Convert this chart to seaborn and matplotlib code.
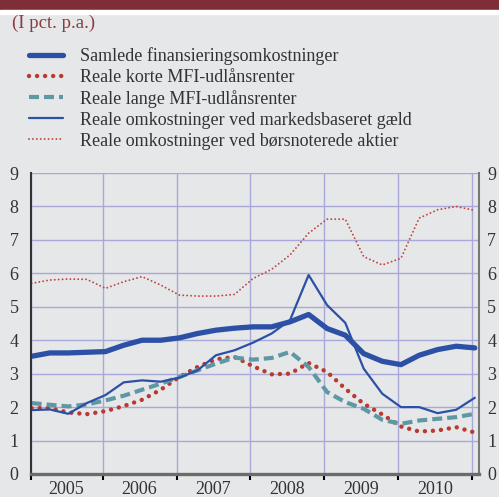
import pandas as pd
import matplotlib
matplotlib.use("Agg")
import matplotlib.pyplot as plt
import seaborn as sns
from matplotlib.lines import Line2D
from matplotlib.patches import Rectangle

# Quarterly observations, 2005 - 2010 (pct. p.a.)
quarters = pd.date_range("2005-01-15", periods=25, freq=pd.DateOffset(months=3))
samlede = [3.52, 3.62, 3.62, 3.64, 3.66, 3.85, 4.0, 4.0, 4.07, 4.2, 4.3, 4.36, 4.4,
           4.4, 4.55, 4.77, 4.35, 4.15, 3.6, 3.37, 3.27, 3.55, 3.72, 3.82, 3.77]
korte = [1.97, 1.97, 1.84, 1.79, 1.88, 2.03, 2.22, 2.52, 2.9, 3.2, 3.43, 3.5, 3.22,
         2.98, 3.0, 3.32, 3.05, 2.55, 2.1, 1.78, 1.42, 1.27, 1.3, 1.4, 1.24]
lange = [2.12, 2.07, 2.02, 2.08, 2.2, 2.34, 2.52, 2.7, 2.9, 3.1, 3.3, 3.48, 3.42,
         3.47, 3.65, 3.2, 2.45, 2.15, 1.95, 1.62, 1.5, 1.6, 1.65, 1.7, 1.8]
markeds = [1.91, 1.93, 1.8, 2.12, 2.36, 2.74, 2.8, 2.76, 2.88, 3.1, 3.55, 3.7, 3.93,
           4.2, 4.6, 5.95, 5.05, 4.52, 3.15, 2.4, 2.0, 2.0, 1.82, 1.92, 2.28]
aktier = [5.7, 5.8, 5.83, 5.82, 5.55, 5.75, 5.9, 5.65, 5.35, 5.32, 5.32, 5.37, 5.85,
          6.12, 6.55, 7.2, 7.62, 7.62, 6.5, 6.25, 6.45, 7.65, 7.9, 8.0, 7.88]

labels = ["Samlede finansieringsomkostninger",
          "Reale korte MFI-udlånsrenter",
          "Reale lange MFI-udlånsrenter",
          "Reale omkostninger ved markedsbaseret gæld",
          "Reale omkostninger ved børsnoterede aktier"]
years = [2005, 2006, 2007, 2008, 2009, 2010]

df = pd.DataFrame({
    "x": quarters.year + (quarters.dayofyear - 1) / 365.25,
    "samlede": samlede, "korte": korte, "lange": lange,
    "markeds": markeds, "aktier": aktier,
})

sns.set_style("white")
plt.rcParams["font.family"] = ["Liberation Serif", "DejaVu Serif"]

bg = "#e6e7e9"
blue = "#2b50a5"
red = "#b83a30"
teal = "#5f98a5"
grid_c = "#a9a9d9"
txt = "#333333"

styles = {
    "aktier": dict(color="#c0463d", lw=1.4, ls=(0, (0.01, 2.0)), dash_capstyle="round"),
    "korte": dict(color=red, lw=3.2, ls=(0, (0.01, 1.8)), dash_capstyle="round"),
    "lange": dict(color=teal, lw=3.0, ls=(0, (2.4, 1.2)), dash_capstyle="butt"),
    "markeds": dict(color=blue, lw=1.6, ls="-"),
    "samlede": dict(color=blue, lw=3.8, ls="-"),
}

fig = plt.figure(figsize=(4.99, 4.97), dpi=100, facecolor=bg)
ax = fig.add_axes([31 / 499, 23 / 497, 448 / 499, 301 / 497])
ax.set_facecolor(bg)

# header band
fig.patches.append(Rectangle((0, 1 - 10 / 497), 1, 10 / 497, transform=fig.transFigure,
                             color="#7d2e36", zorder=0))
fig.patches.append(Rectangle((0, 1 - 14 / 497), 1, 4 / 497, transform=fig.transFigure,
                             color="white", zorder=0))
fig.text(12 / 499, 1 - 23 / 497, "(I pct. p.a.)", color="#8b3a3e", fontsize=13.5, va="center")

for key in ["aktier", "korte", "lange", "markeds", "samlede"]:
    st = styles[key]
    sns.lineplot(data=df, x="x", y=key, ax=ax, color=st["color"], linewidth=st["lw"],
                 linestyle=st["ls"], dash_capstyle=st.get("dash_capstyle", "butt"),
                 solid_joinstyle="round", legend=False)

ax.set_xlim(2005.03, 2011.095)
ax.set_ylim(0, 9)
ax.set_xlabel("")
ax.set_ylabel("")

ax.set_xticks([2005.03] + [y + 1 for y in years])
ax.set_xticklabels([])
ax.set_xticks([y + 0.5 for y in years], minor=True)
ax.set_xticklabels([str(y) for y in years], minor=True)
ax.tick_params(axis="x", which="major", direction="out", length=4.5, width=1.5,
               color="black", bottom=True)
ax.tick_params(axis="x", which="minor", length=0, pad=5, labelsize=13, labelcolor=txt)

ax.set_yticks(range(10))
ax.tick_params(axis="y", length=0, labelsize=13, labelcolor=txt, labelleft=True,
               labelright=False, pad=9)

# right-hand labels on a twin axis so they get their own padding
ax2 = ax.twinx()
ax2.set_ylim(0, 9)
ax2.set_yticks(range(10))
ax2.tick_params(axis="y", length=0, labelsize=13, labelcolor=txt, pad=6)
for s in ax2.spines.values():
    s.set_visible(False)
ax2.grid(False)

ax.grid(True, which="major", color=grid_c, lw=1.0)
ax.set_axisbelow(True)

ax.spines["top"].set_visible(False)
ax.spines["left"].set_color("#333333")
ax.spines["left"].set_linewidth(1.5)
ax.spines["right"].set_color("#777777")
ax.spines["right"].set_linewidth(1.5)
ax.spines["bottom"].set_color("#6b6b6b")
ax.spines["bottom"].set_linewidth(2.4)

handles = [Line2D([0], [0], color=styles[k]["color"], lw=styles[k]["lw"],
                  ls=styles[k]["ls"], dash_capstyle=styles[k].get("dash_capstyle", "butt"))
           for k in ["samlede", "korte", "lange", "markeds", "aktier"]]
leg = fig.legend(handles, labels, loc="upper left", bbox_to_anchor=(29 / 499, 1 - 47 / 497),
                 frameon=False, fontsize=13, handlelength=1.9, handletextpad=0.95,
                 labelspacing=0.22, borderaxespad=0, borderpad=0)
for t in leg.get_texts():
    t.set_color(txt)

fig.savefig("out.png", dpi=100, facecolor=bg)
